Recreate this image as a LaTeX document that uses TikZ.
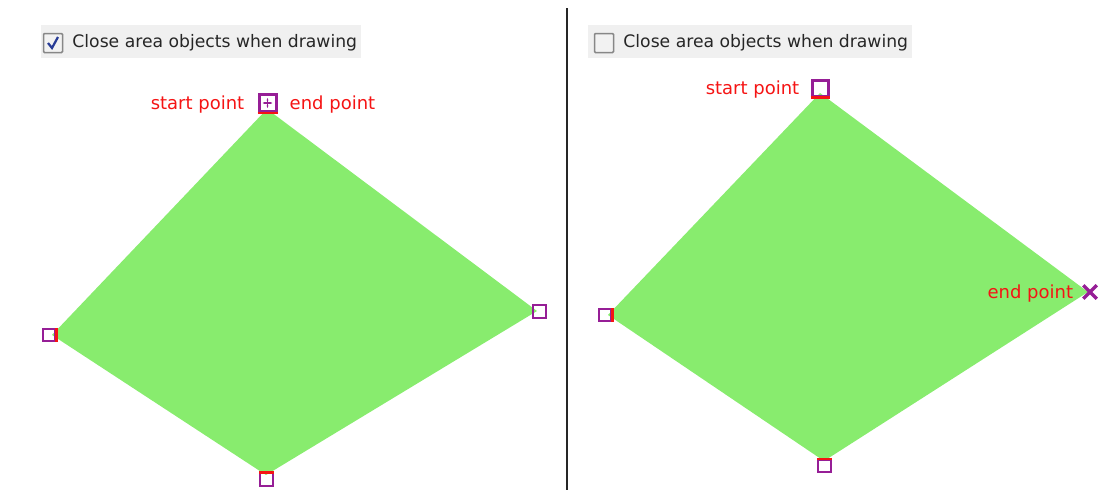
\documentclass[tikz,border=0pt]{standalone}
\usepackage{fontspec}
\setmainfont{DejaVu Sans}
\usetikzlibrary{positioning, shapes.misc, arrows.meta}

\definecolor{areagreen}{RGB}{136,236,110}
\definecolor{markpurple}{RGB}{150,30,150}
\definecolor{edgered}{RGB}{245,20,20}
\definecolor{panelgray}{RGB}{240,240,240}
\definecolor{boxgray}{RGB}{135,135,135}
\definecolor{tickblue}{RGB}{40,60,150}

\begin{document}
\begin{tikzpicture}[
        x=1pt, y=-1pt,
        node distance=13pt,
        area/.style={fill=areagreen, draw=none},
        vmark/.style={rectangle, draw=markpurple, line width=2pt, minimum size=12.5pt, inner sep=0pt},
        startmark/.style={vmark, fill=white, line width=3pt, minimum size=17pt},
        endmark/.style={cross out, draw=markpurple, line width=3.5pt, minimum size=10pt, inner sep=0pt},
        redside/.style={draw=edgered, line width=2.5pt},
        ptlabel/.style={text=edgered, inner sep=0pt, yshift=-2pt, font=\fontsize{18}{20}\selectfont},
        optpanel/.style={fill=panelgray, minimum height=33pt, inner sep=0pt},
        checkbox/.style={draw=boxgray, line width=1.5pt, fill=black!5, minimum size=19pt, inner sep=0pt, rounded corners=1pt},
        opttext/.style={inner sep=0pt, font=\fontsize{17.2}{20}\selectfont, text=black!85}
    ]
        \useasboundingbox (0,0) rectangle (1101,490);

        % --- OPTION PANELS ---
        \node[optpanel, minimum width=320pt] (panel_closed) at (201,41.5) {};
        \node[optpanel, minimum width=324pt] (panel_open) at (750,41.5) {};
        \node[checkbox] (cb_closed) at (53,43) {};
        \node[checkbox] (cb_open) at (604,43) {};
        \node[opttext, right=9pt of cb_closed] (txt_closed) {Close area objects when drawing};
        \node[opttext, right=9pt of cb_open] (txt_open) {Close area objects when drawing};
        \draw[tickblue, line width=2.2pt] ([shift={(-5,0)}]cb_closed.center) -- ([shift={(-1,5)}]cb_closed.center) -- ([shift={(5,-6)}]cb_closed.center);

        % --- DIVIDER ---
        \draw[black!85, line width=1.5pt] (567,8) -- (567,490);

        % --- CLOSED AREA ---
        \coordinate (a_top) at (267,109);
        \coordinate (a_left) at (52,335);
        \coordinate (a_bottom) at (266,475);
        \coordinate (a_right) at (537,311);
        \fill[area] (a_top) -- (a_right) -- (a_bottom) -- (a_left) -- cycle;

        \node[startmark] (ma_top) at (267.5,103) {};
        \draw[markpurple, line width=1.3pt, {Stealth[length=2.5pt]}-{Stealth[length=2.5pt]}] ([yshift=-5pt]ma_top.center) -- ([yshift=5pt]ma_top.center);
        \draw[markpurple, line width=1.3pt, {Stealth[length=2.5pt]}-{Stealth[length=2.5pt]}] ([xshift=-5pt]ma_top.center) -- ([xshift=5pt]ma_top.center);
        \draw[redside] (ma_top.south west) -- (ma_top.south east);
        \node[vmark] (ma_left) at (49,335) {};
        \draw[redside] (ma_left.north east) -- (ma_left.south east);
        \node[vmark] (ma_bottom) at (266.5,479.5) {};
        \draw[redside] (ma_bottom.north west) -- (ma_bottom.north east);
        \node[vmark] (ma_right) at (539.5,311.5) {};

        \node[ptlabel, left=13pt of ma_top] (start_closed) {start point};
        \node[ptlabel, right=12pt of ma_top] (end_closed) {end point};

        % --- OPEN AREA ---
        \coordinate (b_top) at (820,93);
        \coordinate (b_left) at (608,315);
        \coordinate (b_bottom) at (824,461);
        \coordinate (b_right) at (1088,292);
        \fill[area] (b_top) -- (b_right) -- (b_bottom) -- (b_left) -- cycle;

        \node[vmark, line width=3pt, minimum size=16pt] (mb_top) at (820,88) {};
        \draw[redside] (mb_top.south west) -- (mb_top.south east);
        \node[vmark] (mb_left) at (605,315) {};
        \draw[redside] (mb_left.north east) -- (mb_left.south east);
        \node[vmark] (mb_bottom) at (824.5,466) {};
        \draw[redside] (mb_bottom.north west) -- (mb_bottom.north east);
        \node[endmark] (mb_right) at (1090,292) {};

        \node[ptlabel, left=10pt of mb_right] (end_open) {end point};
        \node[ptlabel, left=11pt of mb_top] (start_open) {start point};

    \end{tikzpicture}
\end{document}
